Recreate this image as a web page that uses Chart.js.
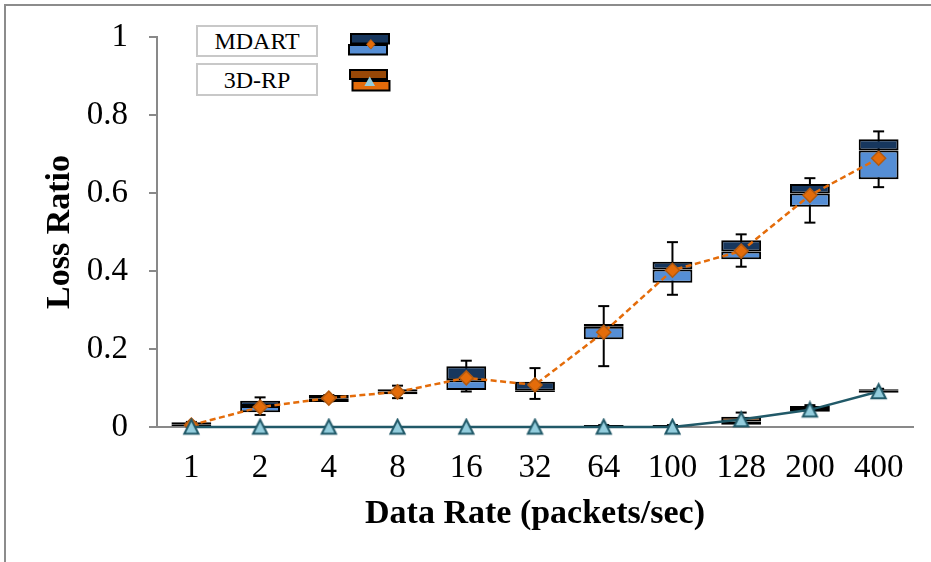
<!DOCTYPE html>
<html>
<head>
<meta charset="utf-8">
<script src="https://cdn.jsdelivr.net/npm/chart.js@4.4.0/dist/chart.umd.min.js"></script>
<style>
html,body{margin:0;padding:0;background:#fff;width:931px;height:562px;overflow:hidden;}
#wrap{position:relative;width:931px;height:562px;}
#frame{position:absolute;left:4px;top:4px;width:960px;height:600px;border-top:2px solid #8c8c8c;border-left:2px solid #8c8c8c;}
#c{position:absolute;left:0;top:0;}
.lbox{position:absolute;left:196px;width:122px;box-sizing:border-box;border:2px solid #c8c8c8;background:#fff;font-family:'Liberation Serif','Times New Roman',serif;font-size:24px;text-align:center;color:#000;}
#icons{position:absolute;left:340px;top:25px;}
</style>
</head>
<body>
<div id="wrap">
<div id="frame"></div>
<canvas id="c" width="931" height="562"></canvas>
<div class="lbox" style="top:25px;height:32px;line-height:29px;">MDART</div>
<div class="lbox" style="top:63px;height:33px;line-height:30px;">3D-RP</div>
<svg id="icons" width="60" height="75" viewBox="340 25 60 75">
  <rect x="351" y="34" width="38" height="9.5" fill="#17375E" stroke="#000" stroke-width="2"/>
  <rect x="349" y="45" width="38" height="9.5" fill="#558ED5" stroke="#000" stroke-width="2"/>
  <polygon points="370.8,39.5 375,44.3 370.8,49.1 366.6,44.3" fill="#E46C0A" stroke="#B35A10" stroke-width="1"/>
  <rect x="350" y="70" width="37" height="9" fill="#984807" stroke="#000" stroke-width="2"/>
  <rect x="352.5" y="81" width="37" height="9.5" fill="#E46C0A" stroke="#000" stroke-width="2"/>
  <polygon points="369.7,76.5 375,86 364.4,86" fill="#93CDDD"/>
</svg>
</div>
<script>
// ---- data ----
const categories = ['1','2','4','8','16','32','64','100','128','200','400'];

const mdartMin    = [0.000, 0.031, 0.066, 0.074, 0.091, 0.072, 0.156, 0.339, 0.411, 0.524, 0.615];
const mdartQ1     = [0.002, 0.038, 0.064, 0.084, 0.095, 0.090, 0.225, 0.370, 0.430, 0.565, 0.635];
const mdartMedian = [0.006, 0.054, 0.074, 0.091, 0.120, 0.093, 0.257, 0.404, 0.450, 0.599, 0.709];
const mdartQ3     = [0.012, 0.067, 0.082, 0.097, 0.156, 0.116, 0.264, 0.424, 0.479, 0.623, 0.738];
const mdartMax    = [0.013, 0.076, 0.082, 0.106, 0.170, 0.151, 0.310, 0.474, 0.494, 0.638, 0.758];
const mdartMean   = [0.005, 0.051, 0.074, 0.090, 0.126, 0.108, 0.243, 0.402, 0.451, 0.594, 0.689];

const rpMin    = [null, null, null, null, null, null, 0.000, 0.000, 0.004, 0.037, 0.087];
const rpQ1     = [null, null, null, null, null, null, 0.000, 0.000, 0.006, 0.039, 0.088];
const rpMedian = [null, null, null, null, null, null, 0.002, 0.002, 0.014, 0.046, 0.093];
const rpQ3     = [null, null, null, null, null, null, 0.005, 0.005, 0.026, 0.054, 0.097];
const rpMax    = [null, null, null, null, null, null, 0.005, 0.005, 0.037, 0.056, 0.098];
const rpMean   = [0, 0, 0, 0, 0, 0, 0, 0, 0.019, 0.044, 0.091];

const yTicks = [0, 0.2, 0.4, 0.6, 0.8, 1];
const yTickLabels = ['0', '0.2', '0.4', '0.6', '0.8', '1'];

// ---- helpers ----
const pairs = (a, b) => a.map((v, i) => (v === null || b[i] === null) ? null : [v, b[i]]);

const tri = document.createElement('canvas');
tri.width = 19; tri.height = 19;
(function () {
  const t = tri.getContext('2d');
  t.beginPath();
  t.moveTo(9.5, 2.2);
  t.lineTo(16.6, 16.3);
  t.lineTo(2.4, 16.3);
  t.closePath();
  t.fillStyle = '#93CDDD';
  t.fill();
  t.lineWidth = 2;
  t.lineJoin = 'miter';
  t.strokeStyle = '#215968';
  t.stroke();
})();

Chart.defaults.font.family = "'Liberation Serif','Times New Roman',serif";
Chart.defaults.color = '#000';

const boxCommon = {type: 'bar', grouped: false, barPercentage: 0.58, categoryPercentage: 1,
  borderColor: '#000', borderWidth: 2, borderSkipped: false, clip: false};
const capCommon = {type: 'line', showLine: false, pointStyle: 'line', pointRadius: 5.5,
  pointBorderColor: '#000', pointBorderWidth: 2, clip: false};
const stemCommon = {type: 'bar', grouped: false, barPercentage: 0.58, categoryPercentage: 1,
  maxBarThickness: 2, backgroundColor: '#000', borderWidth: 0, clip: false};

new Chart(document.getElementById('c'), {
  data: {
    labels: categories,
    datasets: [
      {type: 'line', label: '3D-RP', data: rpMean, borderColor: '#215968', borderWidth: 2.5,
        pointStyle: tri, pointRadius: 9, tension: 0, order: 0, clip: false},
      {type: 'line', label: 'MDART', data: mdartMean, borderColor: '#E46C0A', borderWidth: 2.5,
        borderDash: [6, 3.5], pointStyle: 'rectRot', pointRadius: 7,
        pointBackgroundColor: '#E46C0A', pointBorderColor: '#B35A10', pointBorderWidth: 1.5,
        tension: 0, order: 1, clip: false},
      Object.assign({}, boxCommon, {data: pairs(rpMedian, rpQ3), backgroundColor: '#984807', order: 2}),
      Object.assign({}, boxCommon, {data: pairs(rpQ1, rpMedian), backgroundColor: '#E46C0A', order: 3}),
      Object.assign({}, capCommon, {data: rpMax, order: 4}),
      Object.assign({}, stemCommon, {data: pairs(rpMin, rpMax), order: 5}),
      Object.assign({}, boxCommon, {data: pairs(mdartMedian, mdartQ3), backgroundColor: '#17375E', order: 6}),
      Object.assign({}, boxCommon, {data: pairs(mdartQ1, mdartMedian), backgroundColor: '#558ED5', order: 7}),
      Object.assign({}, capCommon, {data: mdartMax, order: 8}),
      Object.assign({}, capCommon, {data: mdartMin, order: 9}),
      Object.assign({}, stemCommon, {data: pairs(mdartMin, mdartMax), order: 10})
    ]
  },
  options: {
    responsive: false,
    animation: false,
    events: [],
    layout: {padding: {top: 37, right: 18, bottom: 0, left: 0}},
    plugins: {legend: {display: false}, tooltip: {enabled: false}},
    scales: {
      x: {
        type: 'category',
        offset: true,
        grid: {display: false, drawTicks: false},
        border: {display: true, color: '#898989', width: 2},
        ticks: {font: {size: 33}, padding: 22, maxRotation: 0, autoSkip: false},
        title: {display: true, text: 'Data Rate (packets/sec)', font: {size: 34, weight: 'bold'},
          padding: {top: 0, bottom: 27}},
        afterFit: (s) => { s.height = 135; }
      },
      y: {
        min: 0, max: 1,
        afterBuildTicks: (s) => { s.ticks = yTicks.map(v => ({value: v})); },
        grid: {display: true, drawOnChartArea: false, drawTicks: true, tickLength: 8,
          color: '#898989', lineWidth: 2},
        border: {display: true, color: '#898989', width: 2},
        ticks: {font: {size: 33}, padding: 21,
          callback: (v) => yTickLabels[yTicks.indexOf(Math.round(v * 10) / 10)]},
        title: {display: true, text: 'Loss Ratio', font: {size: 34, weight: 'bold'},
          padding: {top: 40, bottom: 0}},
        afterFit: (s) => { s.width = 157; s.paddingTop = 0; s.paddingBottom = 0; }
      }
    }
  }
});
</script>
</body>
</html>
